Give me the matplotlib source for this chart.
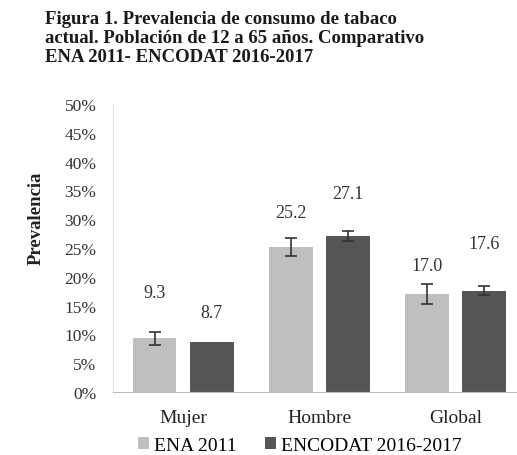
import matplotlib.pyplot as plt
import numpy as np
from matplotlib.ticker import FuncFormatter

# prevalencia de consumo de tabaco actual (%)
categories = ["Mujer", "Hombre", "Global"]
ena_2011 = [9.3, 25.2, 17.0]
encodat_2017 = [8.7, 27.1, 17.6]
ena_err = [1.2, 1.6, 1.7]
encodat_err = [0.0, 0.9, 0.8]
series_names = ["ENA 2011", "ENCODAT 2016-2017"]
yticks = np.arange(0, 55, 5)

# how far above each bar its value label sits (percentage points)
ena_label_lift = [8.0, 6.0, 5.0]
encodat_label_lift = [5.1, 7.4, 8.2]

c_light = '#bfbfbf'
c_dark = '#555555'
serif = 'Liberation Serif'

fig = plt.figure(figsize=(5.17, 4.56), dpi=100)
ax = fig.add_axes([0.2186, 0.138, 0.7814, 0.632])

x = np.arange(len(categories))
w = 0.32
off = 0.21
ax.bar(x - off, ena_2011, w, color=c_light, label=series_names[0], zorder=2)
ax.bar(x + off, encodat_2017, w, color=c_dark, label=series_names[1], zorder=2)
ax.errorbar(x - off, ena_2011, yerr=ena_err, fmt='none', ecolor='#333333',
            elinewidth=1.2, capsize=4, capthick=1.2, zorder=3)
ax.errorbar(x[1:] + off, encodat_2017[1:], yerr=encodat_err[1:], fmt='none',
            ecolor='#333333', elinewidth=1.2, capsize=4, capthick=1.2, zorder=3)

for xi, v, lift in zip(x - off, ena_2011, ena_label_lift):
    ax.text(xi, v + lift, f"{v:.1f}", ha='center', va='center',
            fontsize=13, family=serif, color='#333333')
for xi, v, lift in zip(x + off, encodat_2017, encodat_label_lift):
    ax.text(xi, v + lift, f"{v:.1f}", ha='center', va='center',
            fontsize=13, family=serif, color='#333333')

ax.set_xlim(-0.515, 2.45)
ax.set_ylim(0, 50)
ax.set_yticks(yticks)
ax.yaxis.set_major_formatter(FuncFormatter(lambda v, p: f"{v:.0f}%"))
ax.set_xticks(x)
ax.set_xticklabels(categories, fontsize=14, family=serif, color='#222222')
for lab in ax.get_yticklabels():
    lab.set_family(serif)
    lab.set_fontsize(12.5)
    lab.set_color('#333333')
ax.tick_params(axis='y', length=0, pad=12)
ax.tick_params(axis='x', length=0, pad=12)

for s in ['top', 'right']:
    ax.spines[s].set_visible(False)
ax.spines['left'].set_color('#e6e6e6')
ax.spines['bottom'].set_color('#bbbbbb')

ax.set_ylabel("Prevalencia", fontsize=13.5, family=serif, fontweight='bold',
              color='#222222')
ax.yaxis.set_label_coords(-0.17, 0.607)

ax.legend(loc='center left', bbox_to_anchor=(0.062, -0.185), ncol=2, frameon=False,
          prop={'family': serif, 'size': 14}, handlelength=0.55, handleheight=0.55,
          handletextpad=0.25, columnspacing=1.5, borderaxespad=0, borderpad=0)

fig.text(0.087, 0.975, "Figura 1. Prevalencia de consumo de tabaco\n"
         "actual. Población de 12 a 65 años. Comparativo\n"
         "ENA 2011- ENCODAT 2016-2017",
         ha='left', va='top', fontsize=13.5, family=serif, fontweight='bold',
         color='#1a1a1a', linespacing=1.15)

fig.savefig('out.png', dpi=100)
